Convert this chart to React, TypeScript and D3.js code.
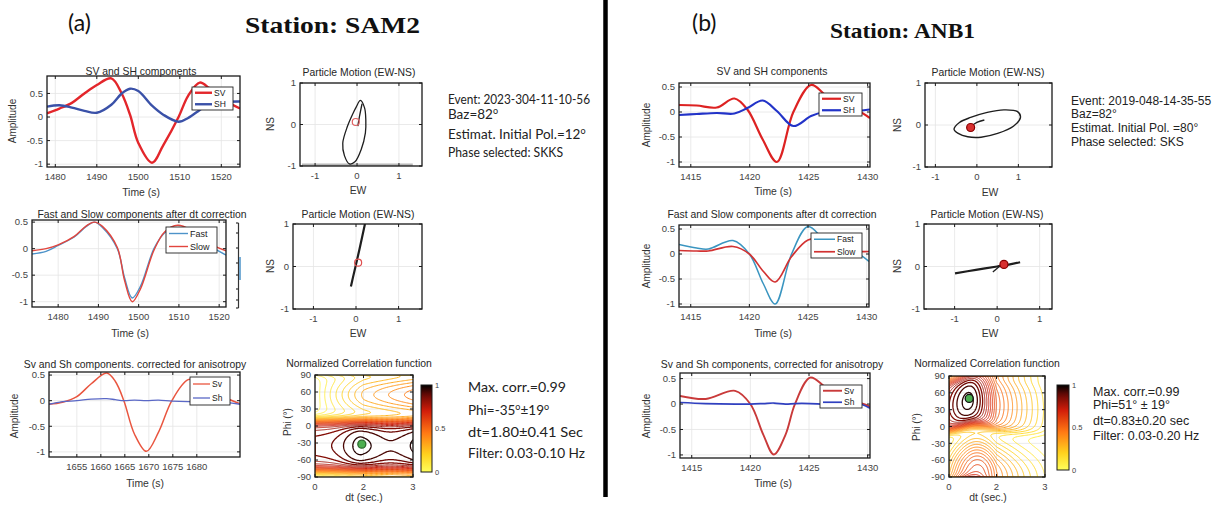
import React from "react";
import * as d3 from "d3";

// ======================= DATA =======================
// ---- (a) Station SAM2 ----
const a1Time = [1478, 1481, 1484, 1487, 1490, 1493.5, 1496, 1498, 1500, 1503.3, 1506, 1509.7, 1512, 1514.8, 1517, 1520, 1524.5];
const a1SV = [0.08, 0.18, 0.3, 0.5, 0.68, 0.82, 0.5, 0.05, -0.55, -0.97, -0.6, 0.0, 0.45, 0.73, 0.62, 0.4, 0.18];
const a1SH = [0.22, 0.25, 0.2, 0.13, 0.09, 0.26, 0.5, 0.6, 0.55, 0.24, 0.05, -0.1, -0.02, 0.15, 0.28, 0.32, 0.33];

const a2Time = [1473.5, 1477, 1480, 1484, 1487, 1489, 1491, 1494.7, 1496.5, 1498.4, 1500.5, 1503.8, 1506.5, 1509.7, 1513, 1517, 1521.7];
const a2Fast = [-0.1, -0.05, 0.06, 0.22, 0.42, 0.5, 0.4, 0.0, -0.55, -0.93, -0.7, 0.0, 0.3, 0.38, 0.3, 0.08, -0.12];
const a2Slow = [-0.04, 0.0, 0.07, 0.23, 0.43, 0.5, 0.42, 0.02, -0.6, -1.0, -0.75, -0.03, 0.32, 0.44, 0.35, 0.12, -0.04];

const a3Time = [1649.2, 1652, 1655, 1658, 1661.2, 1663, 1664.8, 1667, 1669.5, 1672, 1674.8, 1678.2, 1681, 1684, 1689];
const a3Sv = [-0.07, -0.03, 0.08, 0.33, 0.54, 0.38, 0.0, -0.65, -0.99, -0.62, 0.0, 0.41, 0.38, 0.15, -0.06];
const a3Sh = [-0.07, -0.02, 0.0, 0.03, 0.04, 0.02, 0.0, 0.01, 0.0, 0.01, -0.01, -0.02, -0.02, -0.02, -0.07];

const a1PmLoopEW = [-0.02, 0.08, 0.18, 0.21, 0.2, 0.1, -0.05, -0.18, -0.3, -0.34, -0.23, -0.08];
const a1PmLoopNS = [0.42, 0.58, 0.4, 0.1, -0.2, -0.6, -0.9, -0.95, -0.75, -0.45, -0.05, 0.3];
const a1PmLineEW = [0.02, 0.06, 0.12];
const a1PmLineNS = [-0.04, 0.2, 0.5];

const a2PmEW = [-0.12, -0.07, 0.0, 0.08, 0.21];
const a2PmNS = [-0.47, -0.25, 0.05, 0.4, 1.0];

// ---- (b) Station ANB1 ----
const b1Time = [1414, 1415.5, 1417.2, 1418.7, 1419.8, 1421.1, 1422.3, 1423.7, 1425.2, 1426.3, 1427.5, 1429, 1430.2];
const b1SV = [0.14, 0.13, 0.09, 0.27, 0.05, -0.55, -1.0, 0.0, 0.54, 0.36, 0.1, 0.04, -0.12];
const b1SH = [-0.06, -0.04, -0.02, -0.03, 0.08, 0.23, 0.02, -0.28, -0.08, 0.0, 0.02, 0.02, 0.05];

const b2Time = [1414, 1415.5, 1416.5, 1418.6, 1420, 1421.2, 1422.2, 1423.6, 1425, 1426.3, 1427.5, 1429, 1430.2];
const b2Fast = [0.19, 0.12, 0.1, 0.27, 0.0, -0.6, -1.0, 0.0, 0.55, 0.3, 0.08, 0.04, -0.15];
const b2Slow = [0.07, 0.06, 0.06, 0.15, 0.0, -0.35, -0.56, -0.05, 0.28, 0.3, 0.1, 0.05, 0.05];

const b3Time = [1414, 1416.2, 1418.7, 1420, 1421.1, 1422, 1423, 1423.8, 1425.1, 1426.3, 1427.5, 1429, 1430.2];
const b3Sv = [0.16, 0.1, 0.26, 0.0, -0.6, -0.99, -0.6, 0.0, 0.52, 0.35, 0.12, 0.05, -0.05];
const b3Sh = [0.03, 0.01, 0.0, 0.0, 0.01, 0.02, 0.0, 0.01, 0.01, 0.0, 0.0, 0.02, -0.08];

const b1PmLoopEW = [-0.55, -0.42, -0.15, 0.25, 0.65, 0.98, 1.05, 0.88, 0.5, 0.1, -0.22, -0.45];
const b1PmLoopNS = [-0.1, 0.06, 0.18, 0.3, 0.36, 0.32, 0.18, -0.03, -0.2, -0.29, -0.28, -0.2];
const b1PmLineEW = [-0.15, 0.0, 0.18];
const b1PmLineNS = [-0.04, 0.06, 0.12];

const b2PmEW = [-0.99, -0.5, 0.0, 0.3, 0.54];
const b2PmNS = [-0.16, -0.08, 0.0, 0.05, 0.1];
const b2PmTickEW = [-0.1, 0.05];
const b2PmTickNS = [-0.13, 0.0];

// ---- correlation surfaces (profiles read along dt) ----
const corrDtNodes = [0, 0.5, 1, 1.5, 2, 2.5, 3];
const corrA_bandPhi = [-35, -35, -35, -35, -35, -35, -35];
const corrA_core = [0.86, 0.87, 0.9, 0.96, 1.0, 0.9, 0.97];
const corrA_lobe = [0.0, 0.1, 0.18, 0.26, 0.33, 0.4, 0.46];
const corrB_bandPhi = [36, 42, 48, 45, 38, 33, 30];
const corrB_core = [0.84, 0.97, 1.0, 0.82, 0.55, 0.32, 0.15];
const corrB_lobe = [0.3, 0.5, 0.62, 0.62, 0.45, 0.25, 0.12];
const corrLevels = d3.range(0.04, 0.995, 0.04);
const corrBestA = [1.93, -32];
const corrBestB = [0.85, 50];

// colormap (flipped "hot")
const cmapStops = [0, 0.2, 0.45, 0.7, 0.88, 1];
const cmapColors = ["#ffff5a", "#ffd21e", "#ff7814", "#d21e0a", "#6e0a05", "#000000"];

// ticks
const waveYTicks = [-1, -0.5, 0, 0.5];
const a12XTicks = [1480, 1490, 1500, 1510, 1520];
const a3XTicks = [1655, 1660, 1665, 1670, 1675, 1680];
const bXTicks = [1415, 1420, 1425, 1430];
const pmXTicks = [-1, 0, 1];
const pmYTicks = [-1, 0, 1];
const corrXTicks = [0, 2, 3];
const corrYTicks = [-90, -60, -30, 0, 30, 60, 90];

// ======================= HELPERS =======================
const FONT = "'Liberation Sans', Arial, Helvetica, sans-serif";
const CAL = "Lato, 'Open Sans', sans-serif";
const fmt = (v: number) => String(v);
const cmap = d3.scaleLinear<string>().domain(cmapStops).range(cmapColors);
const TFS = 10.4;

type Box = { x0: number; y0: number; x1: number; y1: number };

function Grid({ box, xs, ys, xt, yt }: any) {
  return (
    <g>
      {xt.map((v: number, i: number) => (
        <line key={"gx" + i} x1={xs(v)} x2={xs(v)} y1={box.y0} y2={box.y1} stroke="#e4e4e4" strokeWidth={0.8} />
      ))}
      {yt.map((v: number, i: number) => (
        <line key={"gy" + i} x1={box.x0} x2={box.x1} y1={ys(v)} y2={ys(v)} stroke="#e4e4e4" strokeWidth={0.8} />
      ))}
    </g>
  );
}

function AxisBox({ box, xs, ys, xt, yt, fs = 9.5, tl = 3 }: any) {
  const { x0, y0, x1, y1 } = box;
  return (
    <g>
      <rect x={x0} y={y0} width={x1 - x0} height={y1 - y0} fill="none" stroke="#1a1a1a" strokeWidth={1.3} />
      {xt.map((v: number, i: number) => {
        const x = xs(v);
        return (
          <g key={"xt" + i}>
            <line x1={x} x2={x} y1={y1} y2={y1 - tl} stroke="#1a1a1a" />
            <line x1={x} x2={x} y1={y0} y2={y0 + tl} stroke="#1a1a1a" />
            <text x={x} y={y1 + fs + 3} textAnchor="middle" fontSize={fs} fill="#444">{fmt(v)}</text>
          </g>
        );
      })}
      {yt.map((v: number, i: number) => {
        const y = ys(v);
        return (
          <g key={"yt" + i}>
            <line x1={x0} x2={x0 + tl} y1={y} y2={y} stroke="#1a1a1a" />
            <line x1={x1} x2={x1 - tl} y1={y} y2={y} stroke="#1a1a1a" />
            <text x={x0 - 4} y={y} dy="0.35em" textAnchor="end" fontSize={fs} fill="#444">{fmt(v)}</text>
          </g>
        );
      })}
    </g>
  );
}

function Labels({ title, xlab, ylab }: any) {
  return (
    <g>
      {title && (
        <text x={title.x} y={title.y} textAnchor="middle" fontSize={TFS} fill="#262626">{title.text}</text>
      )}
      {xlab && (
        <text x={xlab.x} y={xlab.y} textAnchor="middle" fontSize={10.4} fill="#333">{xlab.text}</text>
      )}
      {ylab && (
        <text transform={`translate(${ylab.x},${ylab.y}) rotate(-90)`} textAnchor="middle" fontSize={10} fill="#333">{ylab.text}</text>
      )}
    </g>
  );
}

function Legend({ lg }: any) {
  const n = lg.items.length;
  return (
    <g>
      <rect x={lg.x} y={lg.y} width={lg.w} height={lg.h} fill="#fff" stroke="#222" strokeWidth={0.9} />
      {lg.items.map((it: any, i: number) => {
        const cy = lg.y + (lg.h * (i + 0.5)) / n;
        return (
          <g key={i}>
            <line x1={lg.x + 3} x2={lg.x + lg.ll} y1={cy} y2={cy} stroke={it.color} strokeWidth={it.width} />
            <text x={lg.x + lg.ll + 2} y={cy} dy="0.35em" fontSize={lg.fs || 9} fill="#222">{it.label}</text>
          </g>
        );
      })}
    </g>
  );
}

function WavePanel(p: any) {
  const box: Box = p.box;
  const xs = d3.scaleLinear().domain(p.xd).range([box.x0, box.x1]);
  const ys = d3.scaleLinear().domain(p.yd).range([box.y1, box.y0]);
  const line = d3
    .line<[number, number]>()
    .x((d) => xs(d[0]))
    .y((d) => ys(d[1]))
    .curve(d3.curveCatmullRom.alpha(0.5));
  return (
    <g>
      <defs>
        <clipPath id={p.id}>
          <rect x={box.x0} y={box.y0} width={box.x1 - box.x0} height={box.y1 - box.y0} />
        </clipPath>
      </defs>
      <Grid box={box} xs={xs} ys={ys} xt={p.xt} yt={p.yt} />
      <g clipPath={`url(#${p.id})`}>
        {p.series.map((s: any, i: number) => (
          <path key={i} d={line(d3.zip(s.x, s.y) as any) || ""} fill="none" stroke={s.color} strokeWidth={s.width} />
        ))}
      </g>
      <AxisBox box={box} xs={xs} ys={ys} xt={p.xt} yt={p.yt} />
      <Labels title={p.title} xlab={p.xlab} ylab={p.ylab} />
      {p.legend && <Legend lg={p.legend} />}
    </g>
  );
}

function PMPanel(p: any) {
  const box: Box = p.box;
  const xs = d3.scaleLinear().domain(p.xd).range([box.x0, box.x1]);
  const ys = d3.scaleLinear().domain([-1, 1]).range([box.y1, box.y0]);
  const open = d3.line<[number, number]>().x((d) => xs(d[0])).y((d) => ys(d[1])).curve(d3.curveCatmullRom.alpha(0.5));
  const closed = d3.line<[number, number]>().x((d) => xs(d[0])).y((d) => ys(d[1])).curve(d3.curveCatmullRomClosed.alpha(0.5));
  return (
    <g>
      <defs>
        <clipPath id={p.id}>
          <rect x={box.x0} y={box.y0} width={box.x1 - box.x0} height={box.y1 - box.y0} />
        </clipPath>
      </defs>
      <Grid box={box} xs={xs} ys={ys} xt={pmXTicks} yt={pmYTicks} />
      {p.bottomBar && (
        <line x1={box.x0 + 2} x2={xs(1.33)} y1={ys(-0.97)} y2={ys(-0.97)} stroke="#b8b8b8" strokeWidth={2.5} />
      )}
      <g clipPath={`url(#${p.id})`}>
        {p.paths.map((s: any, i: number) => (
          <path
            key={i}
            d={(s.closed ? closed : open)(d3.zip(s.x, s.y) as any) || ""}
            fill="none"
            stroke="#1e1e1e"
            strokeWidth={s.width}
          />
        ))}
        {p.marker && (
          <circle cx={xs(p.marker.x)} cy={ys(p.marker.y)} r={p.marker.r} fill={p.marker.fill} stroke={p.marker.stroke} strokeWidth={1.2} />
        )}
      </g>
      <AxisBox box={box} xs={xs} ys={ys} xt={pmXTicks} yt={pmYTicks} />
      <Labels title={p.title} xlab={p.xlab} ylab={p.ylab} />
    </g>
  );
}

function makeField(bandPhi: number[], core: number[], lobe: number[], sharp: number, lobeWidth: number, lobeShift: number, round: number) {
  const fPhi = d3.interpolateBasis(bandPhi);
  const fCore = d3.interpolateBasis(core);
  const fLobe = d3.interpolateBasis(lobe);
  const dtMax = corrDtNodes[corrDtNodes.length - 1];
  const wrap = (x: number) => (((x % 180) + 270) % 180) - 90;
  return (dt: number, phi: number) => {
    const t = Math.max(0, Math.min(1, dt / dtMax));
    const pc = fPhi(t);
    const c = Math.cos((2 * (phi - pc) * Math.PI) / 180);
    const B = 0.5 + 0.5 * Math.tanh(sharp * c);
    const d = wrap(phi - (pc + 90 + lobeShift));
    const G = Math.exp((-d * d) / (2 * lobeWidth * lobeWidth));
    return B * fCore(t) * (1 - round * (1 - c)) + (1 - B) * fLobe(t) * G;
  };
}

function CorrPanel(p: any) {
  const box: Box = p.box;
  const nx = 121, ny = 181;
  const field = p.field;
  const values = new Array(nx * ny);
  for (let j = 0; j < ny; j++) {
    for (let i = 0; i < nx; i++) {
      values[j * nx + i] = field((i / (nx - 1)) * 3, 90 - (j / (ny - 1)) * 180);
    }
  }
  const contours = d3.contours().size([nx, ny]).thresholds(corrLevels)(values);
  const w = box.x1 - box.x0;
  const xs = d3.scaleLinear().domain([0, 2, 3]).range([box.x0, box.x0 + w * 0.495, box.x1]);
  const ys = d3.scaleLinear().domain([-90, 90]).range([box.y1, box.y0]);
  const gx = d3.scaleLinear().domain([0.5, nx - 0.5]).range([0, 3]);
  const gy = d3.scaleLinear().domain([0.5, ny - 0.5]).range([90, -90]);
  const proj = d3.geoTransform({
    point(this: any, x: number, y: number) {
      this.stream.point(xs(gx(x)), ys(gy(y)));
    },
  });
  const path = d3.geoPath(proj as any);
  const cb = p.cbar;
  const gid = p.id + "grad";
  return (
    <g>
      <defs>
        <clipPath id={p.id}>
          <rect x={box.x0} y={box.y0} width={w} height={box.y1 - box.y0} />
        </clipPath>
        <linearGradient id={gid} x1="0" y1="1" x2="0" y2="0">
          {d3.range(0, 1.0001, 0.05).map((v, i) => (
            <stop key={i} offset={v} stopColor={cmap(v)} />
          ))}
        </linearGradient>
      </defs>
      <Grid box={box} xs={xs} ys={ys} xt={corrXTicks} yt={corrYTicks} />
      <g clipPath={`url(#${p.id})`}>
        {contours.map((c: any, i: number) => (
          <path key={i} d={path(c) || ""} fill="none" stroke={cmap(c.value)} strokeWidth={c.value > 0.8 ? 1.3 : 0.95} strokeLinejoin="round" />
        ))}
        <circle cx={xs(p.best[0])} cy={ys(p.best[1])} r={4} fill="#4caf50" stroke={p.dotStroke} strokeWidth={1.3} />
      </g>
      <AxisBox box={box} xs={xs} ys={ys} xt={corrXTicks} yt={corrYTicks} fs={9.5} />
      <rect x={cb.x0} y={cb.y0} width={cb.x1 - cb.x0} height={cb.y1 - cb.y0} fill={`url(#${gid})`} stroke="#1a1a1a" strokeWidth={1} />
      {[1, 0.5, 0].map((v, i) => (
        <text key={i} x={cb.x1 + 3} y={cb.y1 - v * (cb.y1 - cb.y0)} dy="0.35em" fontSize={7.5} fill="#444">{fmt(v)}</text>
      ))}
      <Labels title={p.title} xlab={p.xlab} ylab={p.ylab} />
    </g>
  );
}

// ======================= APP =======================
export default function App() {
  const fieldA = makeField(corrA_bandPhi, corrA_core, corrA_lobe, 3, 30, 0, 0.1);
  const fieldB = makeField(corrB_bandPhi, corrB_core, corrB_lobe, 3, 45, -35, 0.12);

  return (
    <svg width={1221} height={507} style={{ position: "absolute", left: 0, top: 0, display: "block", background: "#fff" }} fontFamily={FONT}>
      <rect x={0} y={0} width={1221} height={507} fill="#fff" />

      {/* headers */}
      <text x={68} y={31} fontSize={23} fontFamily={CAL} fill="#111">(a)</text>
      <text x={245} y={33} fontSize={23} fontWeight="bold" fontFamily="'Liberation Serif', 'Times New Roman', serif" fill="#111" textLength={175} lengthAdjust="spacingAndGlyphs">Station: SAM2</text>
      <text x={692} y={31} fontSize={23} fontFamily={CAL} fill="#111">(b)</text>
      <text x={830} y={38} fontSize={22} fontWeight="bold" fontFamily="'Liberation Serif', 'Times New Roman', serif" fill="#111" textLength={145} lengthAdjust="spacingAndGlyphs">Station: ANB1</text>

      {/* divider */}
      <line x1={605.5} x2={605.5} y1={0} y2={497} stroke="#000" strokeWidth={4.5} />

      {/* ---------- (a) ---------- */}
      <WavePanel
        id="a1"
        box={{ x0: 47, y0: 76, x1: 240, y1: 167 }}
        xd={[1478, 1524.5]}
        yd={[-1.06, 0.87]}
        xt={a12XTicks}
        yt={waveYTicks}
        series={[
          { x: a1Time, y: a1SV, color: "#e3262b", width: 2.4 },
          { x: a1Time, y: a1SH, color: "#3a51a8", width: 2.4 },
        ]}
        title={{ text: "SV and SH components", x: 141, y: 75 }}
        xlab={{ text: "Time (s)", x: 141, y: 196 }}
        ylab={{ text: "Amplitude", x: 16, y: 121 }}
        legend={{ x: 192, y: 87, w: 41, h: 23, ll: 20, fs: 8.5, items: [
          { label: "SV", color: "#e3262b", width: 2.4 },
          { label: "SH", color: "#3a51a8", width: 2.4 },
        ] }}
      />
      <PMPanel
        id="a1pm"
        box={{ x0: 300, y0: 83, x1: 422, y1: 166 }}
        xd={[-1.36, 1.55]}
        bottomBar
        paths={[
          { x: a1PmLoopEW, y: a1PmLoopNS, closed: true, width: 1.3 },
          { x: a1PmLineEW, y: a1PmLineNS, width: 1.3 },
        ]}
        marker={{ x: -0.03, y: 0.06, r: 3.5, fill: "none", stroke: "#e06060" }}
        title={{ text: "Particle Motion (EW-NS)", x: 359, y: 76 }}
        xlab={{ text: "EW", x: 358, y: 194 }}
        ylab={{ text: "NS", x: 274, y: 124 }}
      />
      <g fontFamily={CAL} fontSize={13.5} fill="#222">
        <text x={448} y={104} textLength={142} lengthAdjust="spacingAndGlyphs">Event: 2023-304-11-10-56</text>
        <text x={448} y={119}>Baz=82<tspan dy={-5} fontSize={9}>o</tspan></text>
        <text x={448} y={139}>Estimat. Initial Pol.=12<tspan dy={-5} fontSize={9}>o</tspan></text>
        <text x={448} y={157} textLength={115} lengthAdjust="spacingAndGlyphs">Phase selected: SKKS</text>
      </g>

      <WavePanel
        id="a2"
        box={{ x0: 32, y0: 220, x1: 226, y1: 307 }}
        xd={[1473.5, 1521.7]}
        yd={[-1.1, 0.54]}
        xt={a12XTicks}
        yt={waveYTicks}
        series={[
          { x: a2Time, y: a2Fast, color: "#4d93c9", width: 1.4 },
          { x: a2Time, y: a2Slow, color: "#e2453d", width: 1.4 },
        ]}
        title={{ text: "Fast and Slow components after dt correction", x: 142, y: 218 }}
        xlab={{ text: "Time (s)", x: 130, y: 337 }}
        legend={{ x: 166, y: 227, w: 51, h: 26, ll: 22, fs: 9, items: [
          { label: "Fast", color: "#4d93c9", width: 1.4 },
          { label: "Slow", color: "#e2453d", width: 1.4 },
        ] }}
      />
      {/* stray axis edge at right of panel a2 */}
      <g stroke="#333" strokeWidth={1.2}>
        <line x1={238.5} x2={238.5} y1={223} y2={308} />
        {[223, 233, 248, 263, 275, 289, 300, 308].map((y, i) => (
          <line key={i} x1={236} x2={238.5} y1={y} y2={y} />
        ))}
      </g>
      <line x1={240} x2={240} y1={257} y2={280} stroke="#4d93c9" strokeWidth={1.5} />

      <PMPanel
        id="a2pm"
        box={{ x0: 293, y0: 224, x1: 422, y1: 309 }}
        xd={[-1.48, 1.55]}
        paths={[{ x: a2PmEW, y: a2PmNS, width: 2.2 }]}
        marker={{ x: 0.05, y: 0.09, r: 3.5, fill: "none", stroke: "#e05050" }}
        title={{ text: "Particle Motion (EW-NS)", x: 358, y: 218 }}
        xlab={{ text: "EW", x: 358, y: 337 }}
        ylab={{ text: "NS", x: 274, y: 266 }}
      />

      <WavePanel
        id="a3"
        box={{ x0: 49, y0: 372, x1: 240, y1: 457 }}
        xd={[1649.2, 1689]}
        yd={[-1.1, 0.56]}
        xt={a3XTicks}
        yt={waveYTicks}
        series={[
          { x: a3Time, y: a3Sv, color: "#e9553f", width: 1.5 },
          { x: a3Time, y: a3Sh, color: "#5a68c6", width: 1.3 },
        ]}
        title={{ text: "Sv and Sh components. corrected for anisotropy", x: 135, y: 368 }}
        xlab={{ text: "Time (s)", x: 145, y: 487 }}
        ylab={{ text: "Amplitude", x: 18, y: 416 }}
        legend={{ x: 190, y: 377, w: 40, h: 28, ll: 20, fs: 8.5, items: [
          { label: "Sv", color: "#e9553f", width: 1.3 },
          { label: "Sh", color: "#5a68c6", width: 1.3 },
        ] }}
      />
      <CorrPanel
        id="a3c"
        box={{ x0: 315, y0: 375, x1: 413, y1: 477 }}
        cbar={{ x0: 421, y0: 385, x1: 432, y1: 472 }}
        field={fieldA}
        best={corrBestA}
        dotStroke="#2e6b30"
        title={{ text: "Normalized Correlation function", x: 359, y: 367 }}
        xlab={{ text: "dt (sec.)", x: 364, y: 501 }}
        ylab={{ text: "Phi (°)", x: 291, y: 422 }}
      />
      <g fontFamily={CAL} fontSize={13.5} fill="#222">
        <text x={468} y={392} textLength={98} lengthAdjust="spacingAndGlyphs">Max. corr.=0.99</text>
        <text x={468} y={415}>
          Phi=-35<tspan dy={-5} fontSize={9}>o</tspan>
          <tspan dy={5}>±19</tspan>
          <tspan dy={-5} fontSize={9}>o</tspan>
        </text>
        <text x={468} y={437} textLength={115} lengthAdjust="spacingAndGlyphs">dt=1.80±0.41 Sec</text>
        <text x={468} y={458} textLength={117} lengthAdjust="spacingAndGlyphs">Filter: 0.03-0.10 Hz</text>
      </g>

      {/* ---------- (b) ---------- */}
      <WavePanel
        id="b1"
        box={{ x0: 679, y0: 83, x1: 870, y1: 167 }}
        xd={[1414, 1430.2]}
        yd={[-1.1, 0.58]}
        xt={bXTicks}
        yt={waveYTicks}
        series={[
          { x: b1Time, y: b1SV, color: "#dd2222", width: 2.2 },
          { x: b1Time, y: b1SH, color: "#2233c8", width: 2.2 },
        ]}
        title={{ text: "SV and SH components", x: 772, y: 75 }}
        xlab={{ text: "Time (s)", x: 773, y: 195 }}
        ylab={{ text: "Amplitude", x: 650, y: 125 }}
        legend={{ x: 819, y: 93, w: 43, h: 23, ll: 22, fs: 8.5, items: [
          { label: "SV", color: "#dd2222", width: 2.2 },
          { label: "SH", color: "#2233c8", width: 2.2 },
        ] }}
      />
      <PMPanel
        id="b1pm"
        box={{ x0: 925, y0: 83, x1: 1052, y1: 167 }}
        xd={[-1.25, 1.81]}
        paths={[
          { x: b1PmLoopEW, y: b1PmLoopNS, closed: true, width: 1.4 },
          { x: b1PmLineEW, y: b1PmLineNS, width: 1.4 },
        ]}
        marker={{ x: -0.15, y: -0.06, r: 4, fill: "#d83030", stroke: "#8a0000" }}
        title={{ text: "Particle Motion (EW-NS)", x: 988, y: 76 }}
        xlab={{ text: "EW", x: 990, y: 196 }}
        ylab={{ text: "NS", x: 901, y: 125 }}
      />
      <g fontSize={12} fill="#222">
        <text x={1071} y={104.5}>Event: 2019-048-14-35-55</text>
        <text x={1071} y={117.5}>Baz=82°</text>
        <text x={1071} y={131.5}>Estimat. Initial Pol. =80°</text>
        <text x={1071} y={145.5}>Phase selected: SKS</text>
      </g>

      <WavePanel
        id="b2"
        box={{ x0: 679, y0: 225, x1: 869, y1: 307 }}
        xd={[1414, 1430.2]}
        yd={[-1.06, 0.58]}
        xt={bXTicks}
        yt={waveYTicks}
        series={[
          { x: b2Time, y: b2Fast, color: "#3a95c0", width: 1.5 },
          { x: b2Time, y: b2Slow, color: "#d23232", width: 1.7 },
        ]}
        title={{ text: "Fast and Slow components after dt correction", x: 772, y: 218 }}
        xlab={{ text: "Time (s)", x: 773, y: 337 }}
        ylab={{ text: "Amplitude", x: 650, y: 266 }}
        legend={{ x: 811, y: 233, w: 51, h: 25, ll: 24, fs: 8.5, items: [
          { label: "Fast", color: "#3a95c0", width: 1.5 },
          { label: "Slow", color: "#d23232", width: 1.7 },
        ] }}
      />
      <PMPanel
        id="b2pm"
        box={{ x0: 924, y0: 224, x1: 1052, y1: 309 }}
        xd={[-1.72, 1.29]}
        paths={[
          { x: b2PmEW, y: b2PmNS, width: 2.2 },
          { x: b2PmTickEW, y: b2PmTickNS, width: 1.3 },
        ]}
        marker={{ x: 0.16, y: 0.05, r: 4, fill: "#d83030", stroke: "#8a0000" }}
        title={{ text: "Particle Motion (EW-NS)", x: 987, y: 218 }}
        xlab={{ text: "EW", x: 990, y: 337 }}
        ylab={{ text: "NS", x: 901, y: 266 }}
      />

      <WavePanel
        id="b3"
        box={{ x0: 680, y0: 373, x1: 870, y1: 458 }}
        xd={[1414, 1430.2]}
        yd={[-1.06, 0.61]}
        xt={bXTicks}
        yt={waveYTicks}
        series={[
          { x: b3Time, y: b3Sv, color: "#c93a3a", width: 1.9 },
          { x: b3Time, y: b3Sh, color: "#3040c0", width: 1.7 },
        ]}
        title={{ text: "Sv and Sh components, corrected for anisotropy", x: 772, y: 368 }}
        xlab={{ text: "Time (s)", x: 773, y: 487 }}
        ylab={{ text: "Amplitude", x: 650, y: 416 }}
        legend={{ x: 820, y: 385, w: 42, h: 23, ll: 22, fs: 8.5, items: [
          { label: "Sv", color: "#c93a3a", width: 1.9 },
          { label: "Sh", color: "#3040c0", width: 1.7 },
        ] }}
      />
      <CorrPanel
        id="b3c"
        box={{ x0: 949, y0: 376, x1: 1045, y1: 477 }}
        cbar={{ x0: 1057, y0: 385, x1: 1069, y1: 470 }}
        field={fieldB}
        best={corrBestB}
        dotStroke="#111"
        title={{ text: "Normalized Correlation function", x: 987, y: 367 }}
        xlab={{ text: "dt (sec.)", x: 988, y: 501 }}
        ylab={{ text: "Phi (°)", x: 920, y: 427 }}
      />
      <g fontSize={12.5} fill="#222">
        <text x={1093} y={395.5}>Max. corr.=0.99</text>
        <text x={1093} y={408.5}>Phi=51° ± 19°</text>
        <text x={1093} y={424.5}>dt=0.83±0.20 sec</text>
        <text x={1093} y={439.5}>Filter: 0.03-0.20 Hz</text>
      </g>
    </svg>
  );
}
